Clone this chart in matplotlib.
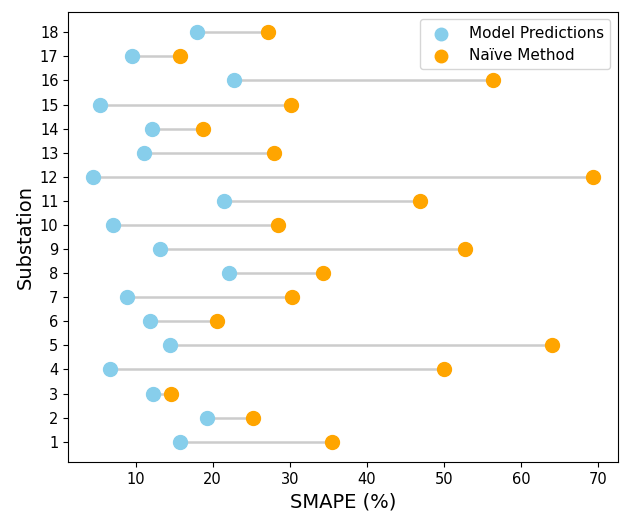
import matplotlib.pyplot as plt

# SMAPE por subestación
subestaciones = list(range(1, 19))
modelo = [15.7, 19.3, 12.2, 6.7, 14.4, 11.8, 8.9, 22.1, 13.2,
          7.1, 21.5, 4.5, 11.1, 12.1, 5.4, 22.8, 9.5, 17.9]
ingenuo = [35.5, 25.2, 14.6, 50.0, 64.0, 20.5, 30.3, 34.3, 52.7,
           28.5, 46.9, 69.3, 28.0, 18.7, 30.2, 56.4, 15.7, 27.2]

fig = plt.figure(figsize=(6.26, 5.13), dpi=100)
ax = fig.add_axes([0.109, 0.099, 0.878, 0.878])

ax.hlines(y=subestaciones, xmin=modelo, xmax=ingenuo, color='grey', alpha=0.4, lw=1.8)
ax.scatter(modelo, subestaciones, color='skyblue', s=100, label='Model Predictions', zorder=3)
ax.scatter(ingenuo, subestaciones, color='orange', s=100, label='Naïve Method', zorder=3)

ax.set_yticks(subestaciones)
ax.tick_params(labelsize=10.5)
ax.set_xlabel('SMAPE (%)', fontsize=14)
ax.set_ylabel('Substation', fontsize=14)
ax.legend(loc='upper right', fontsize=11, markerscale=0.9)

plt.savefig('out.png')
